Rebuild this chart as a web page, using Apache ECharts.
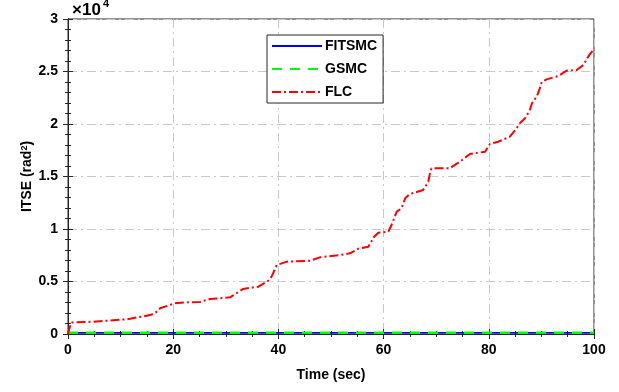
<!DOCTYPE html>
<html><head><meta charset="utf-8">
<script src="https://cdn.jsdelivr.net/npm/echarts@6/dist/echarts.min.js"></script>
<style>html,body{margin:0;padding:0;background:#fff}#c{width:619px;height:392px}</style>
</head><body><div id="c"></div>
<script>
// ---- data ----
const timeFLC = [0, 0.3, 0.7, 4.8, 11.2, 15.6, 16.5, 17.5, 20.3, 22.8, 25.1, 27, 30.8, 33.3, 36.2, 38.1, 38.7, 39.7, 41.6, 46, 47.9, 51.7, 53.6, 55.2, 57.1, 58.2, 59, 60.9, 61.5, 62.5, 63.4, 64.1, 65, 67.5, 68.5, 68.8, 69.1, 72.6, 74.5, 76.4, 79.3, 80.2, 81.8, 84, 85.3, 85.9, 86.9, 87.8, 88.2, 89.1, 89.6, 90.1, 91, 93.2, 94.8, 96.7, 98, 98.9, 99.6, 100];
const valFLC = [0, 600, 1100, 1170, 1400, 1800, 1970, 2450, 2920, 3020, 3050, 3330, 3490, 4290, 4510, 5080, 5460, 6570, 6890, 6980, 7300, 7520, 7680, 8130, 8310, 9270, 9650, 9740, 10380, 11650, 11970, 12920, 13330, 13710, 14500, 15300, 15780, 15780, 16410, 17140, 17360, 18100, 18310, 18790, 19590, 20070, 20540, 21330, 21970, 22600, 23240, 24030, 24250, 24570, 25080, 25140, 25620, 26410, 26890, 27100];
const timeFIT = [0, 100];
const valFIT = [110, 120];
const timeGSMC = [0, 100];
const valGSMC = [120, 130];
const seriesNames = ['FITSMC', 'GSMC', 'FLC'];
const xTicks = [0, 20, 40, 60, 80, 100];

const pairs = (t, v) => t.map((x, i) => [x, v[i]]);
const FONT = 'Liberation Sans, Arial, sans-serif';
const gridLine = {show: true, lineStyle: {color: '#c8c8c8', width: 1, type: [9, 4, 2, 4]}};
const lbl = {color: '#000', fontFamily: FONT, fontWeight: 'bold', fontSize: 14};

const chart = echarts.init(document.getElementById('c'), null, {renderer: 'canvas'});
chart.setOption({
  animation: false,
  backgroundColor: '#fff',
  grid: {left: 68, right: 25, top: 19, bottom: 58, show: true, borderColor: '#262626', borderWidth: 1, backgroundColor: '#fff'},
  graphic: [
    {type: 'text', left: 72, top: 2, style: {text: '×10', fontFamily: FONT, fontWeight: 'bold', fontSize: 17, fill: '#000'}},
    {type: 'text', left: 103, top: -2, style: {text: '4', fontFamily: FONT, fontWeight: 'bold', fontSize: 11, fill: '#000'}}
  ],
  legend: {
    orient: 'vertical', left: 267, top: 35, padding: [4, 6, 4, 4],
    backgroundColor: '#fff', borderColor: '#262626', borderWidth: 1, borderRadius: 0,
    itemWidth: 50, itemHeight: 14, itemGap: 9,
    itemStyle: {opacity: 0},
    textStyle: {color: '#000', fontFamily: FONT, fontWeight: 'bold', fontSize: 14, padding: [0, 0, 0, -2]},
    data: seriesNames
  },
  xAxis: [{
    type: 'value', min: 0, max: 100, interval: 20,
    name: 'Time (sec)', nameLocation: 'middle', nameGap: 34,
    nameTextStyle: {color: '#000', fontFamily: FONT, fontWeight: 'bold', fontSize: 14},
    axisLine: {show: true, lineStyle: {color: '#262626'}},
    axisTick: {show: true, inside: true, length: 5, lineStyle: {color: '#262626'}},
    minorTick: {show: true, splitNumber: 4, length: 3, lineStyle: {color: '#262626'}},
    axisLabel: Object.assign({margin: 9, customValues: xTicks}, lbl),
    splitLine: gridLine
  }, {
    type: 'value', min: 0, max: 100, interval: 20, position: 'top',
    axisLine: {show: true, lineStyle: {color: '#262626'}},
    axisTick: {show: true, inside: true, length: 5, lineStyle: {color: '#262626'}},
    minorTick: {show: true, splitNumber: 4, length: 3, lineStyle: {color: '#262626'}},
    axisLabel: {show: false}, splitLine: {show: false}
  }],
  yAxis: [{
    type: 'value', min: 0, max: 30000, interval: 5000,
    name: '{a|ITSE (rad}{b|2}{a|)}', nameLocation: 'middle', nameGap: 33, nameRotate: 90,
    nameMoveOverlap: false,
    nameTextStyle: {rich: {
      a: {color: '#000', fontFamily: FONT, fontWeight: 'bold', fontSize: 14},
      b: {color: '#000', fontFamily: FONT, fontWeight: 'bold', fontSize: 9, verticalAlign: 'top', padding: [0, 0, 6, 0]}
    }},
    axisLine: {show: true, lineStyle: {color: '#262626'}},
    axisTick: {show: true, inside: true, length: 5, lineStyle: {color: '#262626'}},
    minorTick: {show: true, splitNumber: 5, length: 3, lineStyle: {color: '#262626'}},
    axisLabel: Object.assign({margin: 10, formatter: v => String(v / 10000)}, lbl),
    splitLine: gridLine
  }, {
    type: 'value', min: 0, max: 30000, interval: 5000, position: 'right',
    axisLine: {show: true, lineStyle: {color: '#262626'}},
    axisTick: {show: true, inside: true, length: 5, lineStyle: {color: '#262626'}},
    minorTick: {show: true, splitNumber: 5, length: 3, lineStyle: {color: '#262626'}},
    axisLabel: {show: false}, splitLine: {show: false}
  }],
  series: [{
    name: 'FITSMC', type: 'line', symbol: 'none', data: pairs(timeFIT, valFIT),
    color: '#0000ff', lineStyle: {color: '#0000ff', width: 1.5, type: 'solid'}, z: 3
  }, {
    name: 'GSMC', type: 'line', symbol: 'none', data: pairs(timeGSMC, valGSMC),
    color: '#00ff00', lineStyle: {color: '#00ff00', width: 2.5, type: [10, 8]}, z: 4
  }, {
    name: 'FLC', type: 'line', symbol: 'none', data: pairs(timeFLC, valFLC),
    color: '#ff0000', lineStyle: {color: '#ff0000', width: 2, type: [9, 3, 2, 3]}, z: 5
  }]
});
</script></body></html>
